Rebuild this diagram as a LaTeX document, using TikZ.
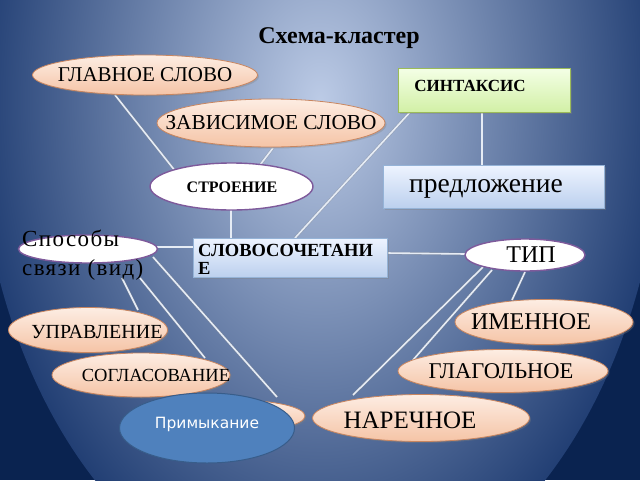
\documentclass[tikz,border=0pt]{standalone}
\usepackage{fontspec}
\setmainfont{Liberation Serif}
\newfontfamily\sansf{DejaVu Sans}
\newfontfamily\spacedserif[LetterSpace=6]{Liberation Serif}
\usetikzlibrary{calc,shapes.geometric,shadows}
\newcommand{\fsz}[1]{\fontsize{#1}{#1}\selectfont}
\definecolor{bgdark}{HTML}{0A2350}
\definecolor{bgin}{HTML}{BCCBE6}
\definecolor{bgout}{HTML}{223F74}
\definecolor{pTop}{HTML}{FDEDE3}
\definecolor{pBot}{HTML}{F5C4A6}
\definecolor{pDraw}{HTML}{C98660}
\definecolor{purp}{HTML}{7E5A9B}
\definecolor{gTop}{HTML}{F4FFE6}
\definecolor{gBot}{HTML}{D2F0A6}
\definecolor{gDraw}{HTML}{9BBB59}
\definecolor{bTop}{HTML}{EEF4FF}
\definecolor{bBot}{HTML}{BCD0EE}
\definecolor{bDraw}{HTML}{95B3D7}
\definecolor{priFill}{HTML}{4F81BD}
\definecolor{priDraw}{HTML}{385D8A}
\definecolor{lineC}{HTML}{E6ECF5}
\begin{document}
\begin{tikzpicture}[x=1pt,y=-1pt,
  peach/.style={ellipse, inner sep=0pt, top color=pTop, bottom color=pBot, draw=pDraw, line width=0.8pt,
     drop shadow={opacity=0.35, shadow xshift=1.5pt, shadow yshift=-1.5pt}},
  wellip/.style={ellipse, inner sep=0pt, fill=white, draw=purp, line width=1.4pt},
  grect/.style={rectangle, inner sep=0pt, top color=gTop, bottom color=gBot, draw=gDraw, line width=0.8pt,
     drop shadow={opacity=0.35, shadow xshift=2pt, shadow yshift=-2pt}},
  brect/.style={rectangle, inner sep=0pt, top color=bTop, bottom color=bBot, draw=bDraw, line width=0.8pt,
     drop shadow={opacity=0.35, shadow xshift=2pt, shadow yshift=-2pt}},
  conn/.style={draw=lineC, line width=1.6pt, preaction={draw=black!45, line width=2.8pt, opacity=0.35}},
  txt/.style={inner sep=0pt, text=black}
]
\useasboundingbox (0,0) rectangle (640,480);
\fill[bgdark] (0,0) rectangle (640,480);
\begin{scope}
  \clip (0,0) rectangle (640,480);
  \shade[inner color=bgin, outer color=bgout] (320,100) ellipse [x radius=343pt, y radius=504pt];
\end{scope}

% title
\node[txt, font=\bfseries\fsz{24}] (title) at (339,38) {Схема-кластер};

% node positions
\coordinate (glav) at (145,75);
\coordinate (zav) at (271,123);
\coordinate (sint) at (484,90);
\coordinate (stro) at (231.5,186.5);
\coordinate (pred) at (493.5,186.5);
\coordinate (spos) at (88,249);
\coordinate (slov) at (290,257.5);
\coordinate (tip) at (525,255);
\coordinate (upr) at (88,330);
\coordinate (imen) at (544,322);
\coordinate (sogl) at (141,375);
\coordinate (glag) at (503,371);
\coordinate (hid) at (235,416);
\coordinate (nar) at (421,418);
\coordinate (pri) at (207,428);

% connectors
\draw[conn] ($(glav)+(-30,20)$) -- ($(stro)+(-55.5,-14.5)$);
\draw[conn] ($(zav)+(2,25)$) -- ($(stro)+(28.5,-21.5)$);
\draw[conn] ($(stro)+(-0.5,23.5)$) -- ($(slov)+(-59,-19.5)$);
\draw[conn] ($(sint)+(-72,20)$) -- ($(slov)+(5,-19.5)$);
\draw[conn] ($(sint)+(-2,22)$) -- ($(pred)+(-11.5,-21.5)$);
\draw[conn] ($(spos)+(69,-2)$) -- ($(slov)+(-97,-10.5)$);
\draw[conn] ($(slov)+(97,-4.5)$) -- ($(tip)+(-60,-1)$);
\draw[conn] ($(spos)+(34,29)$) -- ($(upr)+(50,-20)$);
\draw[conn] ($(spos)+(52,29)$) -- ($(sogl)+(64,-17)$);
\draw[conn] ($(spos)+(65,8)$) -- ($(hid)+(42,-19)$);
\draw[conn] ($(tip)+(0,17)$) -- ($(imen)+(-32,-22)$);
\draw[conn] ($(tip)+(-33,15)$) -- ($(glag)+(-90,-11)$);
\draw[conn] ($(tip)+(-42,12)$) -- ($(nar)+(-68,-23)$);

% shapes
\node[peach, minimum width=225pt, minimum height=40pt] (glavE) at (glav) {};
\node[txt, font=\fsz{21}] (glavT) at (glav) {ГЛАВНОЕ СЛОВО};

\node[peach, minimum width=228pt, minimum height=48pt] (zavE) at (zav) {};
\node[txt, font=\fsz{21.3}] (zavT) at (zav) {ЗАВИСИМОЕ СЛОВО};

\node[grect, minimum width=172pt, minimum height=44pt] (sintR) at (sint) {};
\node[txt, font=\bfseries\fsz{17}] (sintT) at (470,86) {СИНТАКСИС};

\node[wellip, minimum width=163pt, minimum height=47pt] (stroE) at (stro) {};
\node[txt, font=\bfseries\fsz{16}] (stroT) at (232,187) {СТРОЕНИЕ};

\node[brect, minimum width=221pt, minimum height=43pt] (predR) at (pred) {};
\node[txt, font=\fsz{27.5}] (predT) at (486,189) {предложение};

\node[brect, minimum width=194pt, minimum height=39pt] (slovR) at (slov) {};
\node[txt, font=\bfseries\fontsize{18.5}{18}\selectfont, align=left, anchor=west] (slovT) at (198,259)
  {СЛОВОСОЧЕТАНИ\\Е};

\node[wellip, minimum width=139pt, minimum height=28pt] (sposE) at (spos) {};
\node[txt, font=\spacedserif\fontsize{23}{29}\selectfont, align=left, anchor=west] (sposT) at (22,255)
  {Способы\\связи (вид)};

\node[wellip, minimum width=120pt, minimum height=32pt] (tipE) at (tip) {};
\node[txt, font=\fsz{24}] (tipT) at (531,255) {ТИП};

\node[peach, minimum width=159pt, minimum height=45pt] (uprE) at (upr) {};
\node[txt, font=\fsz{20}] (uprT) at (97,332) {УПРАВЛЕНИЕ};

\node[peach, minimum width=178pt, minimum height=45pt] (imenE) at (imen) {};
\node[txt, font=\fsz{24}] (imenT) at (531,322) {ИМЕННОЕ};

\node[peach, minimum width=178pt, minimum height=44pt] (soglE) at (sogl) {};
\node[txt, font=\fsz{18.5}] (soglT) at (156,375) {СОГЛАСОВАНИЕ};

\node[peach, minimum width=210pt, minimum height=43pt] (glagE) at (glag) {};
\node[txt, font=\fsz{22.5}] (glagT) at (501,371) {ГЛАГОЛЬНОЕ};

\node[peach, minimum width=140pt, minimum height=32pt] (hidE) at (hid) {};

\node[peach, minimum width=217pt, minimum height=47pt] (narE) at (nar) {};
\node[txt, font=\fsz{25}] (narT) at (410,420) {НАРЕЧНОЕ};

\node[ellipse, inner sep=0pt, fill=priFill, draw=priDraw, line width=1pt,
      minimum width=175pt, minimum height=70pt] (priE) at (pri) {};
\node[txt, text=white, font=\sansf\fsz{15.5}] (priT) at (207,424) {Примыкание};
\end{tikzpicture}
\end{document}
